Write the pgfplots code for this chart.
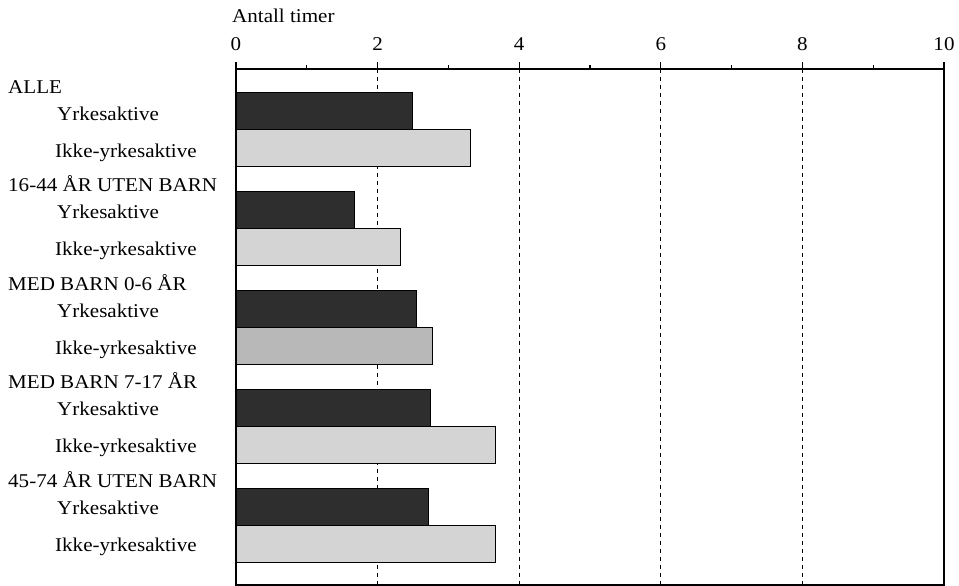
\documentclass[border=0pt]{standalone}
\usepackage{fontspec}
\setmainfont{Liberation Serif}[FakeStretch=1.08]
\usepackage{pgfplots}
\pgfplotsset{compat=1.18}
\definecolor{darkbar}{HTML}{2E2E2E}
\definecolor{lightbar}{HTML}{D4D4D4}
\definecolor{midbar}{HTML}{B8B8B8}
\newcommand{\lbl}{\fontsize{19.5bp}{22bp}\selectfont}
\begin{document}
\begin{tikzpicture}
\useasboundingbox (0,0) rectangle (959bp,-586bp);
\begin{axis}[
  at={(236bp,-69bp)}, anchor=north west,
  scale only axis, width=708bp, height=516bp,
  xmin=0, xmax=10, ymin=69, ymax=585, y dir=reverse,
  xtick={0,2,4,6,8,10}, minor xtick={1,3,5,7,9},
  xtick pos=upper, xticklabel pos=upper,
  tick align=outside,
  major tick length=7bp, minor tick length=4bp,
  ytick=\empty,
  xmajorgrids,
  major grid style={black, line width=0.9bp, dash pattern=on 3.5bp off 4.5bp},
  axis line style={line width=1.1bp},
  every tick/.style={black, line width=1.1bp},
  /pgf/number format/assume math mode=true,
  xticklabel style={font=\lbl, yshift=8bp},
  xbar, bar width=37, bar shift=0pt,
  clip=false,
]
\addplot[draw=black, fill=darkbar, line width=0.6bp] coordinates {
 (2.49,111) (1.67,210) (2.55,309) (2.75,408) (2.71,507)};
\addplot[draw=black, fill=lightbar, line width=1bp] coordinates {
 (3.31,148) (2.32,247) (3.67,445) (3.67,544)};
\addplot[draw=black, fill=midbar, line width=1bp] coordinates {
 (2.78,346)};
\end{axis}
\node[anchor=base west, inner sep=0pt] at (232bp,-22bp) {\lbl Antall timer};
\foreach \g/\t [count=\i from 0] in {0/ALLE,1/16-44 ÅR UTEN BARN,2/MED BARN 0-6 ÅR,3/MED BARN 7-17 ÅR,4/45-74 ÅR UTEN BARN}{
  \pgfmathsetmacro{\top}{92+98.5*\g}
  \node[anchor=base west, inner sep=0pt] at (8bp,-\top bp-1bp) {\lbl \t};
  \node[anchor=base west, inner sep=0pt] at (57bp,-\top bp-28bp) {\lbl Yrkesaktive};
  \node[anchor=base west, inner sep=0pt] at (55bp,-\top bp-65bp) {\lbl Ikke-yrkesaktive};
}
\end{tikzpicture}
\end{document}
